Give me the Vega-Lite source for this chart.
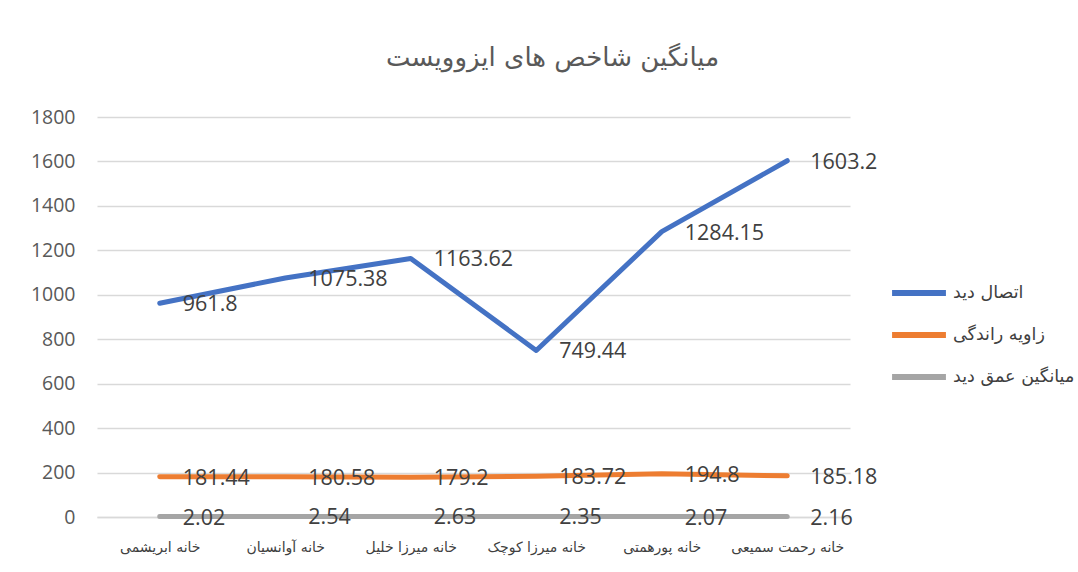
{
  "$schema": "https://vega.github.io/schema/vega-lite/v6.json",
  "autosize": "none",
  "width": 753,
  "height": 400,
  "padding": {"left": 97, "top": 117, "right": 228, "bottom": 55},
  "background": "white",
  "config": {
    "view": {"stroke": null},
    "font": "Open Sans, DejaVu Sans"
  },
  "title": {
    "text": "میانگین شاخص های ایزوویست",
    "fontSize": 26,
    "fontWeight": "normal",
    "color": "#595959",
    "font": "DejaVu Sans",
    "anchor": "middle",
    "frame": "group",
    "dx": 79,
    "offset": 36
  },
  "data": {
    "values": [
      {"house": "خانه ابریشمی", "series": "اتصال دید", "value": 961.8},
      {"house": "خانه آوانسیان", "series": "اتصال دید", "value": 1075.38},
      {"house": "خانه میرزا خلیل", "series": "اتصال دید", "value": 1163.62},
      {"house": "خانه میرزا کوچک", "series": "اتصال دید", "value": 749.44},
      {"house": "خانه پورهمتی", "series": "اتصال دید", "value": 1284.15},
      {"house": "خانه رحمت سمیعی", "series": "اتصال دید", "value": 1603.2},
      {"house": "خانه ابریشمی", "series": "زاویه راندگی", "value": 181.44},
      {"house": "خانه آوانسیان", "series": "زاویه راندگی", "value": 180.58},
      {"house": "خانه میرزا خلیل", "series": "زاویه راندگی", "value": 179.2},
      {"house": "خانه میرزا کوچک", "series": "زاویه راندگی", "value": 183.72},
      {"house": "خانه پورهمتی", "series": "زاویه راندگی", "value": 194.8},
      {"house": "خانه رحمت سمیعی", "series": "زاویه راندگی", "value": 185.18},
      {"house": "خانه ابریشمی", "series": "میانگین عمق دید", "value": 2.02},
      {"house": "خانه آوانسیان", "series": "میانگین عمق دید", "value": 2.54},
      {"house": "خانه میرزا خلیل", "series": "میانگین عمق دید", "value": 2.63},
      {"house": "خانه میرزا کوچک", "series": "میانگین عمق دید", "value": 2.35},
      {"house": "خانه پورهمتی", "series": "میانگین عمق دید", "value": 2.07},
      {"house": "خانه رحمت سمیعی", "series": "میانگین عمق دید", "value": 2.16}
    ]
  },
  "encoding": {
    "x": {
      "field": "house",
      "type": "nominal",
      "sort": null,
      "scale": {"type": "point", "padding": 0.5},
      "axis": {
        "title": null,
        "labelAngle": 0,
        "labelFontSize": 14,
        "labelColor": "#404040",
        "labelFont": "DejaVu Sans",
        "labelPadding": 23,
        "ticks": false,
        "domain": true,
        "domainColor": "#d9d9d9",
        "domainWidth": 1.5,
        "grid": false
      }
    },
    "y": {
      "field": "value",
      "type": "quantitative",
      "scale": {"domain": [0, 1800], "nice": false},
      "axis": {
        "title": null,
        "values": [0, 200, 400, 600, 800, 1000, 1200, 1400, 1600, 1800],
        "format": "d",
        "labelFontSize": 19.5,
        "labelColor": "#595959",
        "labelPadding": 22,
        "ticks": false,
        "domain": false,
        "grid": true,
        "gridColor": "#d9d9d9",
        "gridWidth": 1.5
      }
    }
  },
  "layer": [
    {
      "mark": {"type": "line", "strokeWidth": 5, "strokeCap": "round", "strokeJoin": "round"},
      "encoding": {
        "color": {
          "field": "series",
          "type": "nominal",
          "scale": {
            "domain": ["اتصال دید", "زاویه راندگی", "میانگین عمق دید"],
            "range": ["#4472C4", "#ED7D31", "#A5A5A5"]
          },
          "legend": {
            "title": null,
            "orient": "none",
            "legendX": 792,
            "legendY": 146,
            "symbolType": "stroke",
            "symbolSize": 2900,
            "symbolStrokeWidth": 6,
            "labelFontSize": 17.5,
            "labelColor": "#404040",
            "labelFont": "DejaVu Sans",
            "labelOffset": 4,
            "rowPadding": -10,
            "padding": 0
          }
        }
      }
    },
    {
      "mark": {"type": "text", "align": "left", "baseline": "middle", "dx": 23, "dy": 2, "fontSize": 21.5, "color": "#404040"},
      "encoding": {
        "text": {"field": "value", "type": "nominal"}
      }
    }
  ]
}
